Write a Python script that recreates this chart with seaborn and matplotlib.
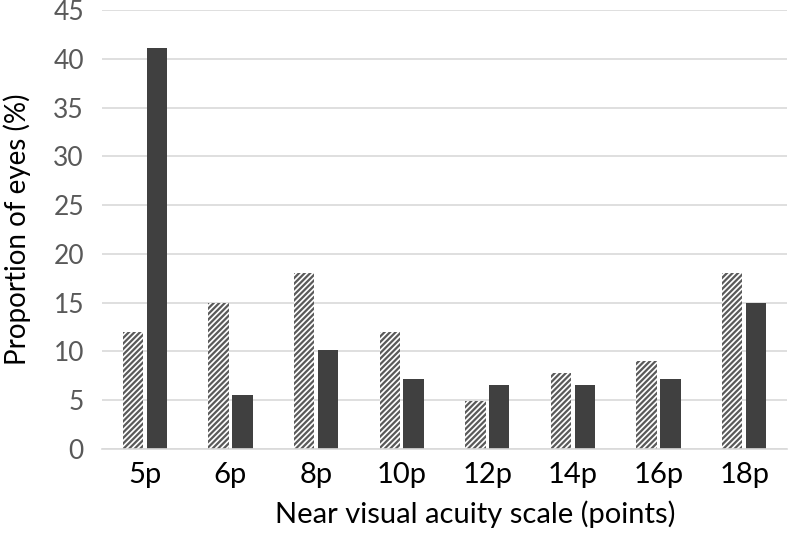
import matplotlib
matplotlib.use("Agg")
import matplotlib.pyplot as plt
import seaborn as sns
import pandas as pd

categories = ["5p", "6p", "8p", "10p", "12p", "14p", "16p", "18p"]
series_a = [12.0, 15.0, 18.0, 12.0, 4.9, 7.8, 9.0, 18.0]
series_b = [41.1, 5.5, 10.1, 7.2, 6.6, 6.6, 7.2, 15.0]
series_names = ["Series A", "Series B"]

df = pd.DataFrame({
    "cat": categories * 2,
    "val": series_a + series_b,
    "series": [series_names[0]] * len(categories) + [series_names[1]] * len(categories),
})

sns.set_theme(style="white")
plt.rcParams["font.family"] = ["Lato", "DejaVu Sans"]
plt.rcParams["hatch.linewidth"] = 1.6

fig = plt.figure(figsize=(7.88, 5.34), dpi=100)
ax = fig.add_axes([102 / 788, (534 - 449) / 534, (787 - 102) / 788, (449 - 10) / 534])

sns.barplot(data=df, x="cat", y="val", hue="series", order=categories,
            hue_order=series_names, palette=["white", "#404040"],
            width=0.56, gap=0.15, legend=False, ax=ax, saturation=1)

for bar in ax.containers[0]:
    bar.set_hatch("//////")
    bar.set_edgecolor("#5a5a5a")
    bar.set_linewidth(0)
for bar in ax.containers[1]:
    bar.set_edgecolor("#404040")
    bar.set_linewidth(0)

ax.set_ylim(0, 45)
ax.set_yticks(range(0, 46, 5))
ax.yaxis.grid(True, color="#d9d9d9", linewidth=1.2)
ax.set_axisbelow(True)
for s in ["top", "right", "left"]:
    ax.spines[s].set_visible(False)
ax.spines["bottom"].set_color("#d9d9d9")
ax.spines["bottom"].set_linewidth(1.2)

ax.tick_params(axis="y", labelsize=19, labelcolor="#595959", length=0, pad=13)
ax.tick_params(axis="x", labelsize=21, labelcolor="black", length=0, pad=9)
ax.set_xlabel("Near visual acuity scale (points)", fontsize=21, color="black")
ax.xaxis.set_label_coords(0.545, -0.117)
ax.set_ylabel("Proportion of eyes (%)", fontsize=20, color="black", labelpad=16)

fig.savefig("out.png", dpi=100)
